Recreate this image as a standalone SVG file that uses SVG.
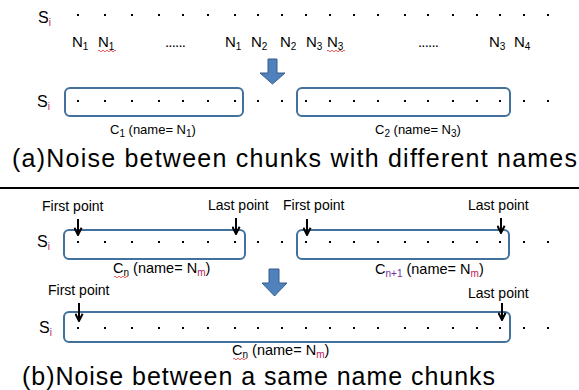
<svg xmlns="http://www.w3.org/2000/svg" width="579" height="390" viewBox="0 0 579 390">
<style>
text{font-family:"Liberation Sans",Arial,sans-serif;fill:#000}
.si{font-size:16px}
.n{font-size:15px}
.lbl{font-size:13px}
.lblb{font-size:14.5px}
.pt{font-size:14px}
.big{font-size:25px}
.sub{font-size:10px}
.red{fill:#C0185C}
.pur{fill:#7030A0}
.box{fill:none;stroke:#41719C;stroke-width:2}
.blue{fill:#4F81BD;stroke:#385D8A;stroke-width:1}
.arr{stroke:#000;stroke-width:2;fill:none;marker-end:url(#ah)}
.wavy{fill:none;stroke:#E03030;stroke-width:0.8}
.sep{stroke:#000;stroke-width:2}
</style>
<defs>
<marker id="ah" viewBox="0 0 10 10" refX="9" refY="5" markerWidth="9" markerHeight="9" markerUnits="userSpaceOnUse" orient="auto">
<path d="M1,1 L9,5 L1,9" fill="none" stroke="#000" stroke-width="2.2"/>
</marker>
<g id="dotrow">
<rect x="77" y="-1" width="2" height="2"/><rect x="104" y="-1" width="2" height="2"/><rect x="131" y="-1" width="2" height="2"/><rect x="158" y="-1" width="2" height="2"/><rect x="182" y="-1" width="2" height="2"/><rect x="207" y="-1" width="2" height="2"/><rect x="234" y="-1" width="2" height="2"/><rect x="257" y="-1" width="2" height="2"/><rect x="281" y="-1" width="2" height="2"/><rect x="305" y="-1" width="2" height="2"/><rect x="329" y="-1" width="2" height="2"/><rect x="353" y="-1" width="2" height="2"/><rect x="377" y="-1" width="2" height="2"/><rect x="404" y="-1" width="2" height="2"/><rect x="427" y="-1" width="2" height="2"/><rect x="452" y="-1" width="2" height="2"/><rect x="476" y="-1" width="2" height="2"/><rect x="499" y="-1" width="2" height="2"/><rect x="523" y="-1" width="2" height="2"/><rect x="547" y="-1" width="2" height="2"/>
</g>
</defs>

<!-- Part (a) -->
<g id="a-row1">
<text class="si" x="38" y="23">S<tspan class="sub red" dy="3">i</tspan></text>
<use href="#dotrow" y="15"/>
</g>
<g id="a-names">
<text class="n" x="72" y="47">N<tspan class="sub" dy="3">1</tspan></text>
<text class="n" x="98" y="47">N<tspan class="sub" dy="3">1</tspan></text>
<path class="wavy" d="M98,51 q1,-1.6 2,0 t2,0 t2,0 t2,0 t2,0 t2,0 t2,0 t2,0 t2,0"/>
<text class="n" x="165" y="47" textLength="21" lengthAdjust="spacing">......</text>
<text class="n" x="225" y="47">N<tspan class="sub" dy="3">1</tspan></text>
<text class="n" x="251" y="47">N<tspan class="sub" dy="3">2</tspan></text>
<text class="n" x="280" y="47">N<tspan class="sub" dy="3">2</tspan></text>
<text class="n" x="306" y="47">N<tspan class="sub" dy="3">3</tspan></text>
<text class="n" x="327" y="47">N<tspan class="sub" dy="3">3</tspan></text>
<path class="wavy" d="M327,51 q1,-1.6 2,0 t2,0 t2,0 t2,0 t2,0 t2,0 t2,0 t2,0 t2,0"/>
<text class="n" x="418" y="47" textLength="21" lengthAdjust="spacing">......</text>
<text class="n" x="489" y="47">N<tspan class="sub" dy="3">3</tspan></text>
<text class="n" x="514" y="47">N<tspan class="sub" dy="3">4</tspan></text>
</g>
<g id="a-arrow">
<path class="blue" d="M268,59 H277 V73 H285 L272.5,84 L260,73 H268 Z"/>
</g>
<g id="a-row2">
<text class="si" x="37" y="107">S<tspan class="sub red" dy="3">i</tspan></text>
<use href="#dotrow" y="101"/>
</g>
<g id="a-chunk1">
<rect class="box" x="65" y="88" width="178" height="28" rx="5"/>
<text class="lbl" x="110" y="134">C<tspan class="sub" dy="3">1</tspan><tspan dy="-3"> (name= N</tspan><tspan class="sub" dy="3">1</tspan><tspan dy="-3">)</tspan></text>
</g>
<g id="a-chunk2">
<rect class="box" x="297" y="88" width="213" height="28" rx="5"/>
<text class="lbl" x="375" y="134">C<tspan class="sub" dy="3">2</tspan><tspan dy="-3"> (name= N</tspan><tspan class="sub" dy="3">3</tspan><tspan dy="-3">)</tspan></text>
</g>
<g id="a-caption">
<text class="big" x="12" y="167" textLength="565" lengthAdjust="spacing">(a)Noise between chunks with different names</text>
</g>

<line class="sep" x1="0" y1="188" x2="579" y2="188"/>

<!-- Part (b) -->
<g id="b-row1">
<text class="si" x="37" y="247">S<tspan class="sub red" dy="3">i</tspan></text>
<use href="#dotrow" y="242"/>
</g>
<g id="b-chunk1">
<rect class="box" x="64" y="230" width="181" height="29" rx="5"/>
<text class="pt" x="42" y="211">First point</text>
<text class="pt" x="208" y="210">Last point</text>
<text class="lblb" x="113" y="273">C<tspan class="sub" dy="3">n</tspan><tspan dy="-3"> (name= N</tspan><tspan class="sub red" dy="3">m</tspan><tspan dy="-3">)</tspan></text>
<path class="wavy" d="M114,277 q1,-1.6 2,0 t2,0 t2,0 t2,0 t2,0 t2,0 t2,0"/>
</g>
<g id="b-chunk2">
<rect class="box" x="297" y="230" width="212" height="29" rx="5"/>
<text class="pt" x="283" y="210">First point</text>
<text class="pt" x="468" y="210">Last point</text>
<text class="lblb" x="375" y="274">C<tspan class="sub pur" dy="3">n+1</tspan><tspan dy="-3"> (name= N</tspan><tspan class="sub red" dy="3">m</tspan><tspan dy="-3">)</tspan></text>
</g>
<g id="b-arrow">
<path class="blue" d="M269,269 H279 V283 H287 L274.5,296 L262,283 H269 Z"/>
</g>
<g id="b-row2">
<text class="si" x="39" y="333">S<tspan class="sub red" dy="3">i</tspan></text>
<use href="#dotrow" y="328"/>
</g>
<g id="b-merged">
<rect class="box" x="64" y="312" width="446" height="30" rx="5"/>
<text class="pt" x="48" y="295">First point</text>
<text class="pt" x="468" y="298">Last point</text>
<text class="lblb" x="232" y="355">C<tspan class="sub" dy="2.5">n</tspan><tspan dy="-2.5"> (name= N</tspan><tspan class="sub red" dy="2.5">m</tspan><tspan dy="-2.5">)</tspan></text>
<path class="wavy" d="M233,359 q1,-1.6 2,0 t2,0 t2,0 t2,0 t2,0 t2,0 t2,0"/>
</g>
<g id="b-caption">
<text class="big" x="22" y="385" textLength="473" lengthAdjust="spacing">(b)Noise between a same name chunks</text>
</g>

<g id="connectors">
<path class="arr" d="M78,219 V235"/>
<path class="arr" d="M236,218 V234"/>
<path class="arr" d="M307,219 V235"/>
<path class="arr" d="M501,218 V233"/>
<path class="arr" d="M79,303 V321"/>
<path class="arr" d="M502,303 V320"/>
</g>
</svg>
